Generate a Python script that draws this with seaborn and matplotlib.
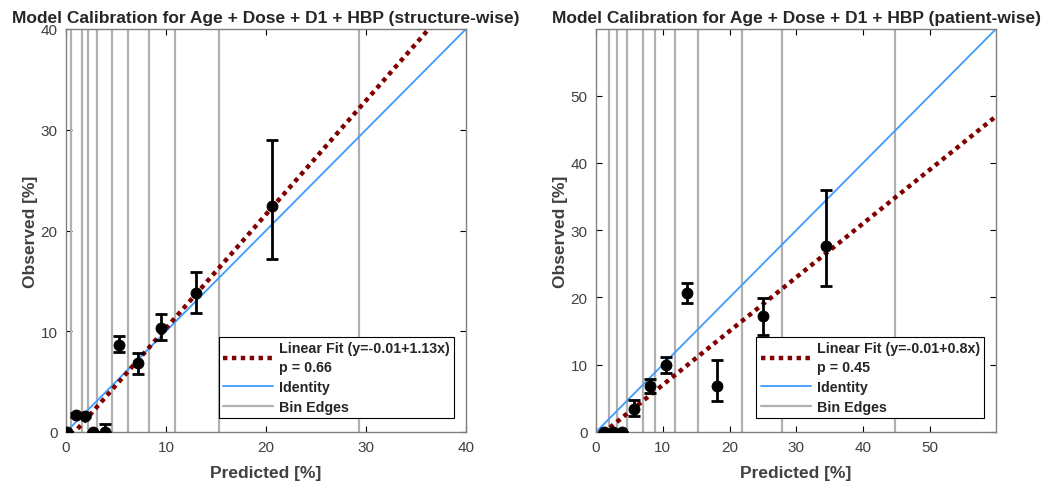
import matplotlib
matplotlib.use("Agg")
import matplotlib.pyplot as plt
import numpy as np
import pandas as pd
import seaborn as sns

# structure-wise calibration (percent)
struct_pred = [0.07, 1.0, 1.9, 2.73, 3.9, 5.3, 7.17, 9.47, 12.97, 20.63]
struct_obs = [0.0, 1.66, 1.6, 0.0, 0.0, 8.6, 6.8, 10.36, 13.77, 22.4]
struct_lo = [0.0, 1.5, 1.45, 0.0, 0.0, 7.9, 5.8, 9.1, 11.85, 17.2]
struct_hi = [0.0, 1.85, 1.75, 0.0, 0.76, 9.5, 7.8, 11.7, 15.9, 29.0]
struct_edges = [0.5, 1.57, 2.23, 3.13, 4.63, 6.17, 8.27, 10.9, 15.27, 29.33]
struct_fit = (-0.01, 1.13, 0.66)

# patient-wise calibration (percent)
patient_pred = [1.15, 2.5, 3.84, 5.64, 8.13, 10.53, 13.67, 18.1, 25.0, 34.4]
patient_obs = [0.0, 0.0, 0.0, 3.48, 6.86, 9.94, 20.68, 6.86, 17.2, 27.6]
patient_lo = [0.0, 0.0, 0.0, 2.4, 5.86, 8.7, 19.2, 4.6, 14.4, 21.7]
patient_hi = [0.0, 0.0, 0.0, 4.7, 7.85, 11.2, 22.2, 10.7, 19.9, 35.9]
patient_edges = [2.0, 3.14, 4.59, 7.04, 8.88, 11.88, 15.32, 21.8, 27.84, 44.8]
patient_fit = (-0.01, 0.8, 0.45)

sns.set_style("white")
plt.rcParams["font.family"] = ["Liberation Sans", "DejaVu Sans"]

FIT_COLOR = "#800000"
ID_COLOR = "#3d9bff"
EDGE_COLOR = "#b0b0b0"
AX_COLOR = "#404040"


def calib_panel(ax, pred, obs, lo, hi, edges, fit, lim, ticks, title):
    for i, e in enumerate(edges):
        ax.axvline(e, color=EDGE_COLOR, lw=1.6, zorder=1,
                   label="Bin Edges" if i == 0 else None)

    xs = np.array([0, lim])
    a, b, p = fit
    df_fit = pd.DataFrame({"x": xs, "y": a * 100 + b * xs})
    df_id = pd.DataFrame({"x": xs, "y": xs})
    sns.lineplot(data=df_fit, x="x", y="y", ax=ax, color=FIT_COLOR, lw=3.2,
                 linestyle=(0, (1.0, 1.0)), zorder=3,
                 label=f"Linear Fit (y={a:g}+{b:g}x)\np = {p:.2f}")
    sns.lineplot(data=df_id, x="x", y="y", ax=ax, color=ID_COLOR, lw=1.3,
                 zorder=2, label="Identity")

    obs = np.array(obs)
    yerr = np.vstack([obs - np.array(lo), np.array(hi) - obs])
    ax.errorbar(pred, obs, yerr=yerr, fmt="none", ecolor="black",
                elinewidth=2, capsize=4, capthick=2, zorder=4)
    sns.scatterplot(x=pred, y=obs, ax=ax, color="black", s=62,
                    edgecolor="black", zorder=5, legend=False)

    ax.set_xlim(0, lim)
    ax.set_ylim(0, lim)
    ax.set_xticks(ticks)
    ax.set_yticks(ticks)
    ax.tick_params(direction="in", length=4, width=0.8, color="black",
                   labelsize=11, labelcolor=AX_COLOR, top=True, right=True,
                   bottom=True, left=True, pad=6)
    for sp in ax.spines.values():
        sp.set_color("#808080")
        sp.set_linewidth(1.0)
    ax.set_xlabel("Predicted [%]", fontsize=12.5, fontweight="bold",
                  color=AX_COLOR, labelpad=8)
    ax.set_ylabel("Observed [%]", fontsize=12.5, fontweight="bold",
                  color=AX_COLOR, labelpad=2)
    ax.set_title(title, fontsize=12.5, fontweight="bold", pad=5)

    h, l = ax.get_legend_handles_labels()
    order = [l.index(n) for n in l if n.startswith("Linear")] + \
            [l.index("Identity"), l.index("Bin Edges")]
    leg = ax.legend([h[i] for i in order], [l[i] for i in order],
                    loc="lower right", bbox_to_anchor=(0.97, 0.035),
                    borderaxespad=0,
                    frameon=True, fancybox=False, edgecolor="black",
                    framealpha=1, handlelength=3.5, handletextpad=0.4,
                    borderpad=0.3, labelspacing=0.4,
                    prop={"weight": "bold", "size": 10.3})
    for t in leg.get_texts():
        t.set_linespacing(1.45)
    leg.get_frame().set_linewidth(0.8)


fig = plt.figure(figsize=(10.5, 4.89), dpi=100)
ax1 = fig.add_axes([66 / 1050, 56 / 489, 400 / 1050, 403 / 489])
ax2 = fig.add_axes([596 / 1050, 56 / 489, 400 / 1050, 403 / 489])

calib_panel(ax1, struct_pred, struct_obs, struct_lo, struct_hi,
            struct_edges, struct_fit, 40, [0, 10, 20, 30, 40],
            "Model Calibration for Age + Dose + D1 + HBP (structure-wise)")
calib_panel(ax2, patient_pred, patient_obs, patient_lo, patient_hi,
            patient_edges, patient_fit, 59.9, [0, 10, 20, 30, 40, 50],
            "Model Calibration for Age + Dose + D1 + HBP (patient-wise)")

fig.savefig("out.png", dpi=100)
